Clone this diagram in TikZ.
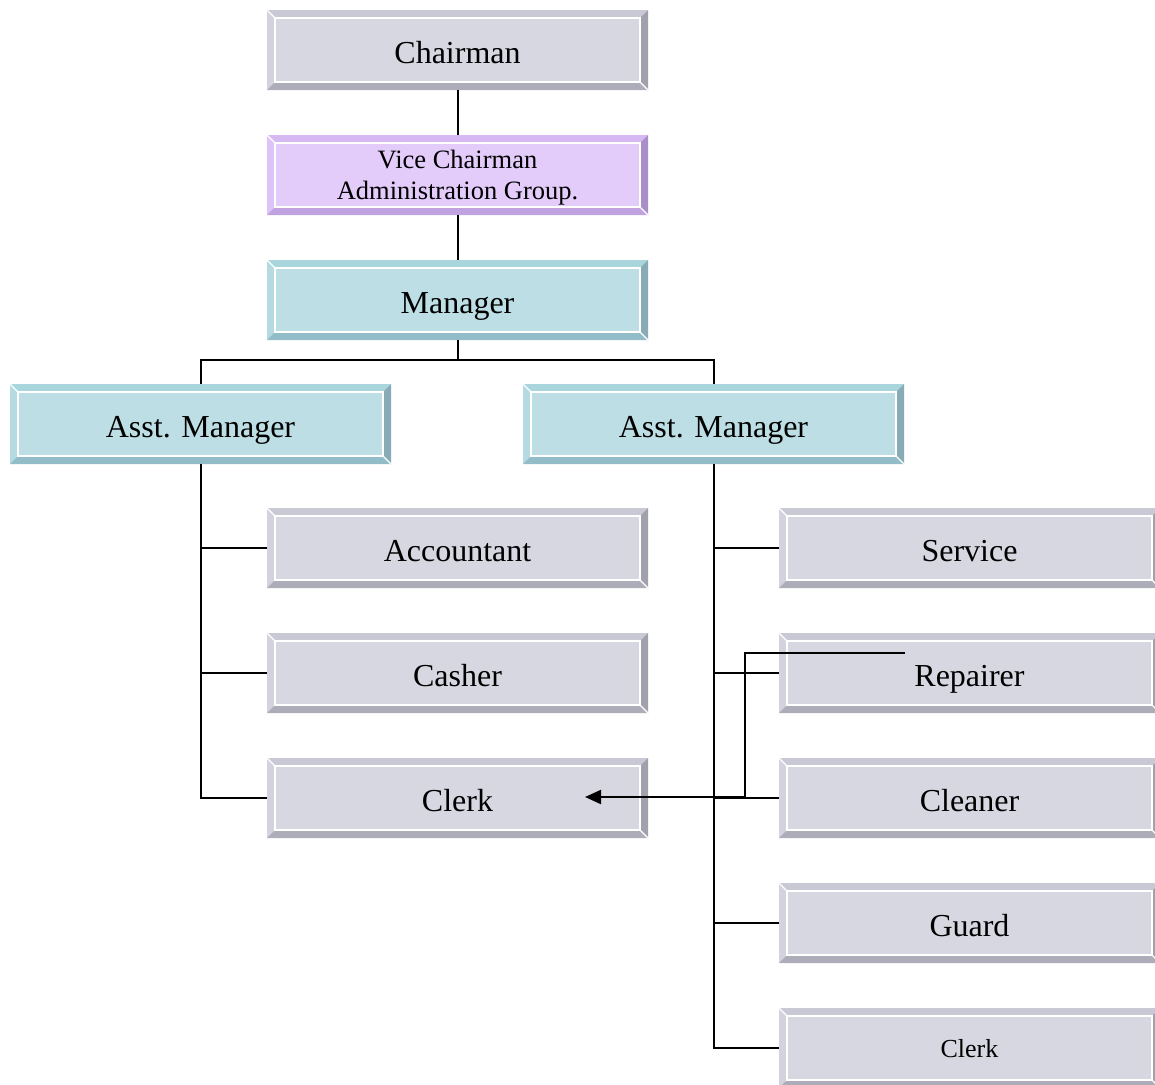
\documentclass[tikz,border=0pt]{standalone}
\usepackage{fontspec}
\setmainfont{Liberation Serif}
\usetikzlibrary{calc,arrows.meta}
\definecolor{gF}{HTML}{D7D7E1}\definecolor{gT}{HTML}{C9C9D5}\definecolor{gL}{HTML}{D3D3DD}\definecolor{gR}{HTML}{A1A1AD}\definecolor{gB}{HTML}{ADADB9}
\definecolor{pF}{HTML}{E3CBFA}\definecolor{pT}{HTML}{D6B9F2}\definecolor{pL}{HTML}{DDC3F7}\definecolor{pR}{HTML}{A98FC9}\definecolor{pB}{HTML}{C1A2E1}
\definecolor{tF}{HTML}{BCDEE4}\definecolor{tT}{HTML}{A9D5DD}\definecolor{tL}{HTML}{B5DAE1}\definecolor{tR}{HTML}{89ABB5}\definecolor{tB}{HTML}{92BDC8}
\tikzset{
  bevel/.style n args={5}{rectangle, inner sep=0pt, outer sep=0pt,
    minimum width=381pt, minimum height=80pt, align=center,
    text height=27pt, text depth=0pt,
    font=\fontsize{32}{36}\selectfont, fill=#1,
    path picture={
      \fill[#2] (path picture bounding box.north west) -- (path picture bounding box.north east)
        -- ([shift={(-8pt,-8pt)}]path picture bounding box.north east)
        -- ([shift={(8pt,-8pt)}]path picture bounding box.north west) -- cycle;
      \fill[#3] (path picture bounding box.north west) -- ([shift={(8pt,-8pt)}]path picture bounding box.north west)
        -- ([shift={(8pt,8pt)}]path picture bounding box.south west)
        -- (path picture bounding box.south west) -- cycle;
      \fill[#4] (path picture bounding box.north east) -- ([shift={(-8pt,-8pt)}]path picture bounding box.north east)
        -- ([shift={(-8pt,8pt)}]path picture bounding box.south east)
        -- (path picture bounding box.south east) -- cycle;
      \fill[#5] (path picture bounding box.south west) -- ([shift={(8pt,8pt)}]path picture bounding box.south west)
        -- ([shift={(-8pt,8pt)}]path picture bounding box.south east)
        -- (path picture bounding box.south east) -- cycle;
      \draw[white, line width=1.3pt] ([shift={(8pt,8pt)}]path picture bounding box.south west)
        rectangle ([shift={(-8pt,-8pt)}]path picture bounding box.north east);
      \draw[white, line width=1.3pt] (path picture bounding box.north west) -- ([shift={(8pt,-8pt)}]path picture bounding box.north west);
      \draw[white, line width=1.3pt] (path picture bounding box.south east) -- ([shift={(-8pt,8pt)}]path picture bounding box.south east);
    }},
  gbox/.style={bevel={gF}{gT}{gL}{gR}{gB}},
  pbox/.style={bevel={pF}{pT}{pL}{pR}{pB}},
  tbox/.style={bevel={tF}{tT}{tL}{tR}{tB}},
  conn/.style={line width=2pt, black},
  arrowline/.style={line width=2pt, black, -{Triangle[length=16pt,width=14pt]}}
}
\begin{document}
\begin{tikzpicture}[x=1pt,y=1pt]
\useasboundingbox (0,0) rectangle (1155,-1084);
% top chain
\node[gbox] (ch) at (457.5,-50) {Chairman};
\node[pbox, font=\fontsize{26.5}{30.5}\selectfont, text height=48.5pt, text depth=0pt] (vc) at (457.5,-175) {Vice Chairman\\Administration Group.};
\node[tbox] (mg) at (457.5,-300) {Manager};
\node[tbox] (al) at (200.5,-424) {Asst. Manager};
\node[tbox] (ar) at (713.5,-424) {Asst. Manager};
% left column
\node[gbox] (ac) at (457.5,-548) {Accountant};
\node[gbox] (cs) at (457.5,-673) {Casher};
\node[gbox] (ck) at (457.5,-798) {Clerk};
% right column
\node[gbox] (sv) at (969.5,-548) {Service};
\node[gbox] (rp) at (969.5,-673) {Repairer};
\node[gbox] (cn) at (969.5,-798) {Cleaner};
\node[gbox] (gd) at (969.5,-923) {Guard};
\node[gbox, font=\fontsize{26}{30}\selectfont, text height=18pt] (ck2) at (969.5,-1048) {Clerk};
% connectors
\draw[conn] (ch) -- (vc);
\draw[conn] (vc) -- (mg);
\coordinate (j) at (457.5,-360);
\draw[conn] (mg.south) -- (j);
\draw[conn] (al.north) |- (j) -| (ar.north);
\draw[conn] (al.south) |- (ck.west);
\draw[conn] (ac.west) -| (al.south);
\draw[conn] (cs.west) -| (al.south);
\draw[conn] (ar.south) |- (ck2.west);
\draw[conn] (sv.west) -| (ar.south);
\draw[conn] (rp.west) -| (ar.south);
\draw[conn] (cn.west) -| (ar.south);
\draw[conn] (gd.west) -| (ar.south);
% arrow from repairer to clerk
\coordinate (as) at (905,-653);
\coordinate (bend) at (745,-797);
\coordinate (ae) at (585,-797);
\draw[arrowline] (as) -| (bend) -- (ae);
\end{tikzpicture}
\end{document}
